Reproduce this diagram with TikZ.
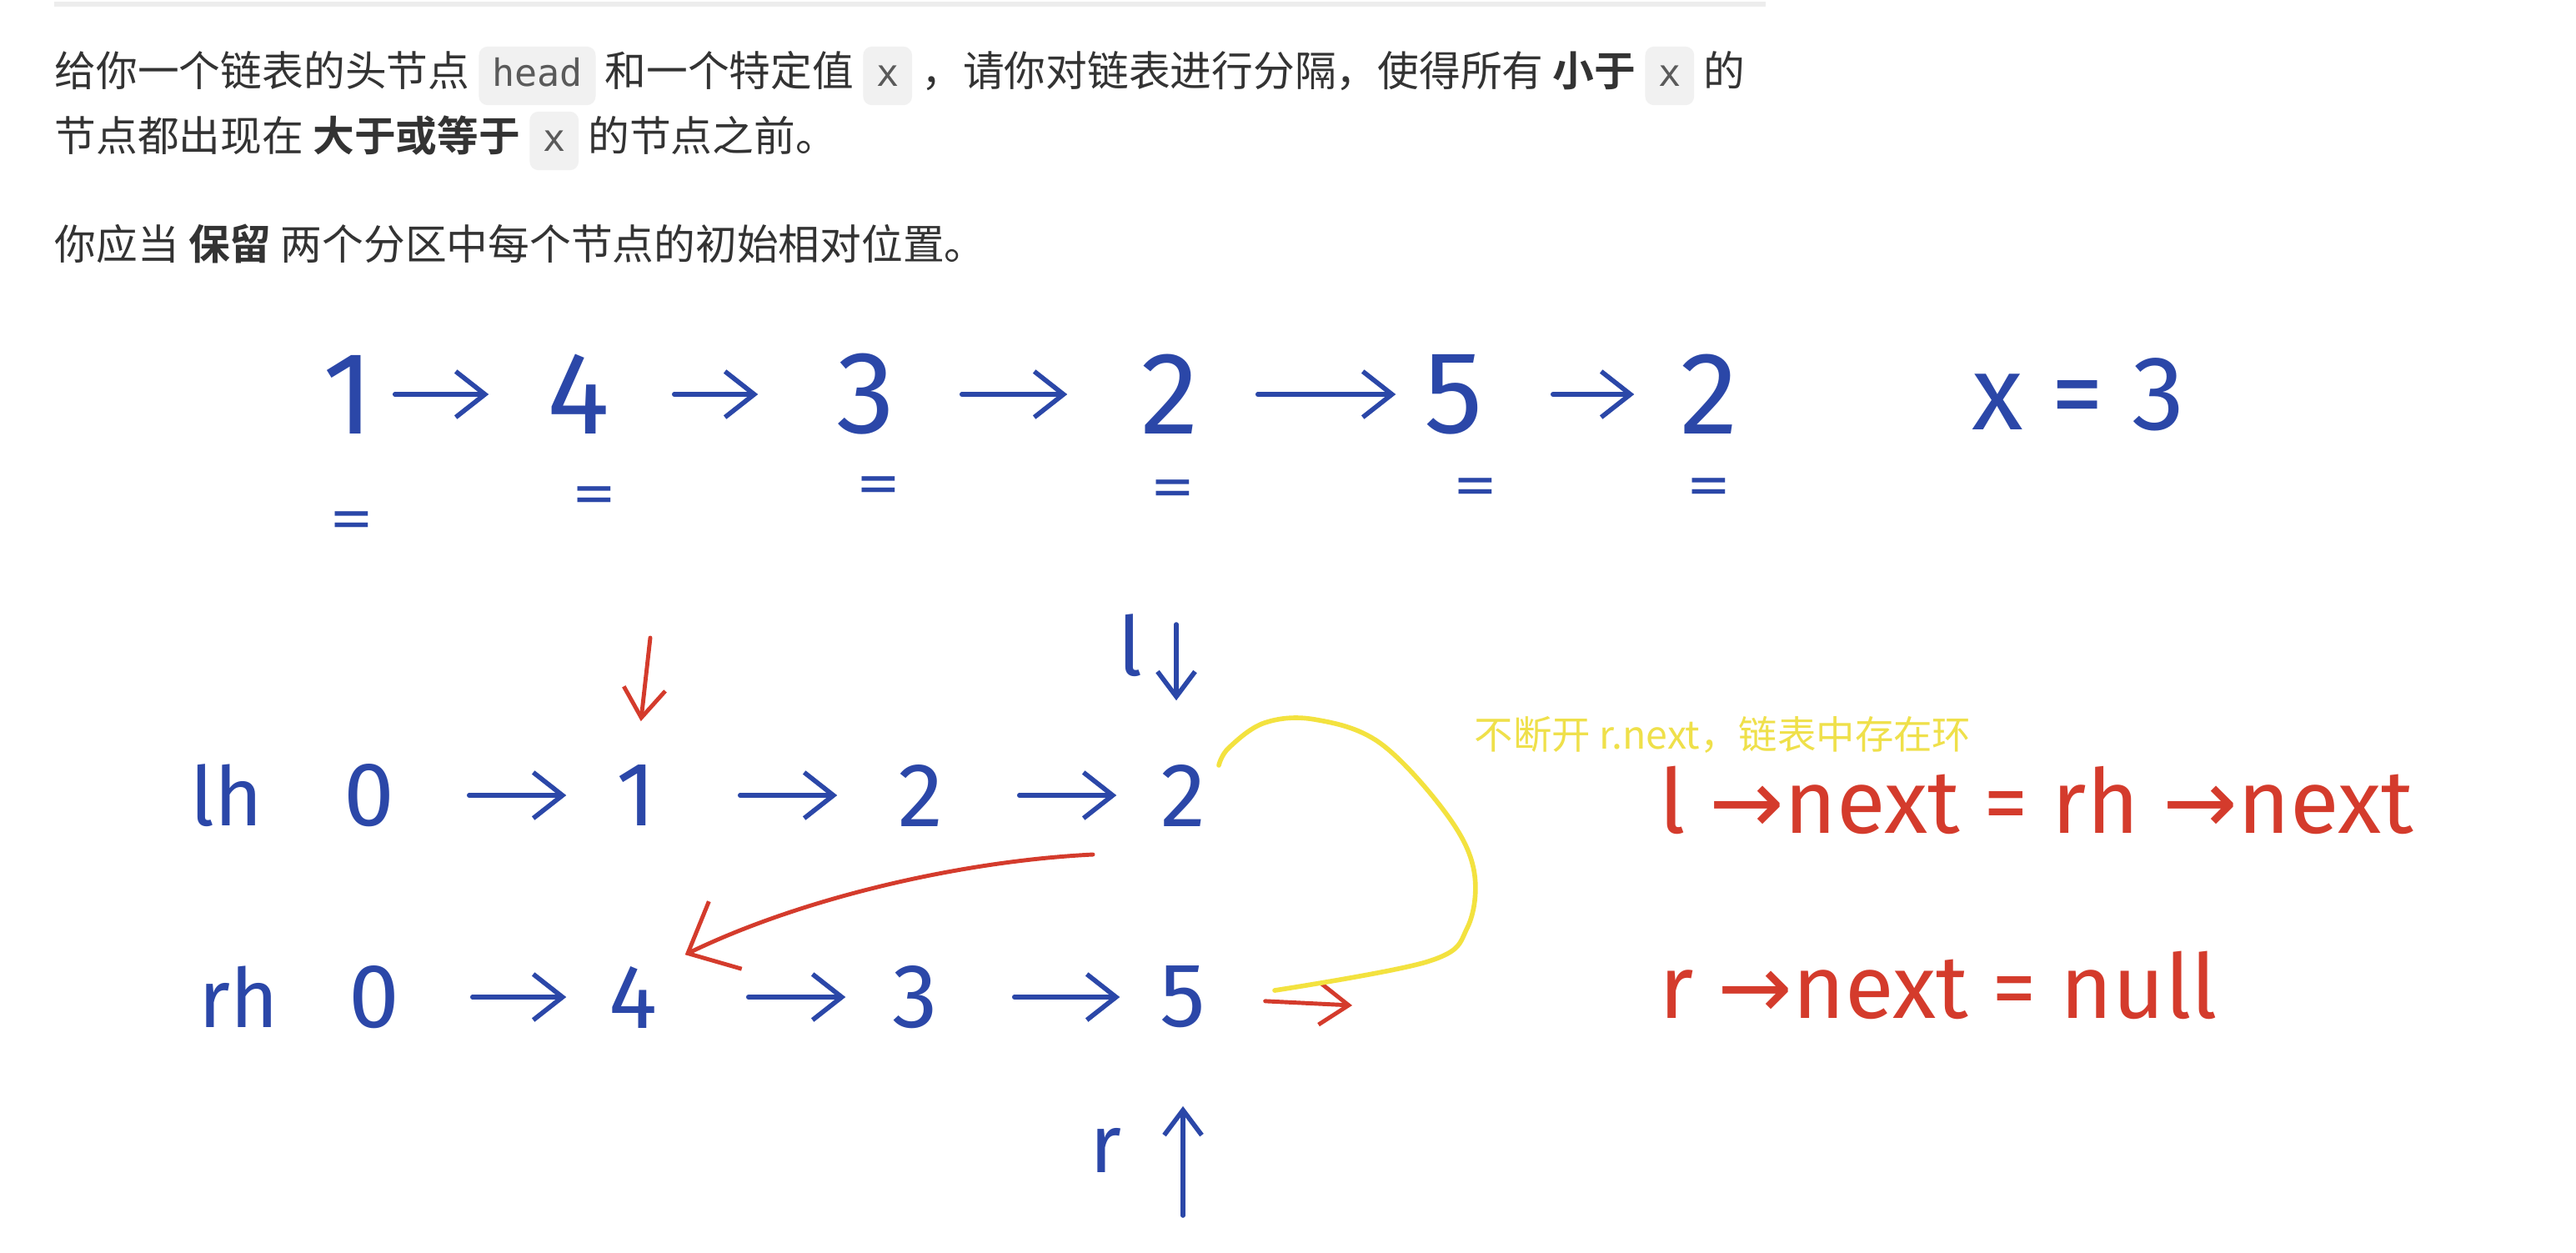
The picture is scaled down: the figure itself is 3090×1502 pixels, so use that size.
\documentclass[tikz,border=0pt]{standalone}
\usepackage{fontspec}
\setmainfont{Fira Sans}
\newfontfamily\cjk{Noto Sans CJK SC}[BoldFont={Noto Sans CJK SC Bold}]
\newfontfamily\codefont{DejaVu Sans Mono}
\newfontfamily\hand{Fira Sans}
\newfontfamily\sym{DejaVu Sans}
\usetikzlibrary{arrows.meta}
\definecolor{txt}{HTML}{333333}
\definecolor{codebg}{HTML}{F1F1F1}
\definecolor{codefg}{HTML}{5A5A5A}
\definecolor{pen}{HTML}{2B47A8}
\definecolor{redpen}{HTML}{D43B2C}
\definecolor{yel}{HTML}{F3E23F}
\definecolor{yeltext}{HTML}{EFE04A}
\definecolor{rulegray}{HTML}{EDEDED}
\newcommand\codebx[1]{\tikz[baseline=(cb.base)]\node[fill=codebg,rounded corners=3pt,inner xsep=4.5pt,inner ysep=4pt,text height=9.5pt,text depth=2.5pt,text=codefg,font=\codefont\fontsize{12.8pt}{14pt}\selectfont](cb){#1};}
\newcommand\wideeq{\scalebox{1.5}[1]{=}}
\tikzset{
  para/.style={anchor=west,text=txt,inner sep=0pt,font=\cjk\fontsize{14.15pt}{16pt}\selectfont},
  digit/.style={text=pen,inner sep=0pt,minimum width=0.9cm,minimum height=0.9cm,font=\hand\fontsize{40pt}{40pt}\selectfont},
  mdigit/.style={text=pen,inner sep=0pt,minimum width=0.7cm,minimum height=0.7cm,font=\hand\fontsize{31pt}{31pt}\selectfont},
  mlabel/.style={text=pen,inner sep=0pt,font=\hand\fontsize{28pt}{28pt}\selectfont},
  eqmark/.style={text=pen,inner sep=0pt,font=\hand\fontsize{20pt}{20pt}\selectfont},
  bluearrow/.style={draw=pen,line width=1.6pt,line cap=round,-{Straight Barb[length=3.5mm,width=5.5mm]}},
  redarrow/.style={draw=redpen,line width=1.4pt,line cap=round,-{Straight Barb[length=3.5mm,width=5mm]}},
  redformula/.style={anchor=west,text=redpen,inner sep=0pt,font=\hand\fontsize{30.5pt}{30.5pt}\selectfont},
}
\begin{document}
\begin{tikzpicture}[x=0.01cm,y=-0.01cm]
\useasboundingbox (0,0) rectangle (3090,1502);
\fill[white] (0,0) rectangle (3090,1502);
% top rule
\draw[rulegray,line width=1.5pt] (65,5) -- (2118,5);
% problem text
\node[para] (t1) at (65,91) {给你一个链表的头节点 \codebx{head} 和一个特定值 \codebx{x} ，请你对链表进行分隔，使得所有 \textbf{小于} \codebx{x} 的};
\node[para] (t2) at (65,169) {节点都出现在 \textbf{大于或等于} \codebx{x} 的节点之前。};
\node[para] (t3) at (65,292) {你应当 \textbf{保留} 两个分区中每个节点的初始相对位置。};

% top row
\node[digit] (n1) at (418,473) {1};
\node[digit] (n2) at (694,473) {4};
\node[digit] (n3) at (1039,473) {3};
\node[digit] (n4) at (1403,473) {2};
\node[digit] (n5) at (1744,473) {5};
\node[digit] (n6) at (2050,473) {2};
\node[text=pen,inner sep=0pt,font=\hand\fontsize{36pt}{36pt}\selectfont] (xeq) at (2493,473) {x = 3};
\draw[bluearrow,shorten <=0.10cm,shorten >=0.62cm] (n1) -- (n2);
\draw[bluearrow,shorten <=0.69cm,shorten >=0.84cm] (n2) -- (n3);
\draw[bluearrow,shorten <=0.69cm,shorten >=0.77cm] (n3) -- (n4);
\draw[bluearrow,shorten <=0.60cm,shorten >=0.24cm] (n4) -- (n5);
\draw[bluearrow,shorten <=0.73cm,shorten >=0.44cm] (n5) -- (n6);
% equal marks
\node[eqmark] (e1) at (422,630) {\wideeq};
\node[eqmark] (e2) at (713,600) {\wideeq};
\node[eqmark] (e3) at (1054,588) {\wideeq};
\node[eqmark] (e4) at (1407,592) {\wideeq};
\node[eqmark] (e5) at (1770,590) {\wideeq};
\node[eqmark] (e6) at (2050,590) {\wideeq};

% lh row
\node[mlabel] (lh) at (272,954) {lh};
\node[mdigit] (a0) at (443,954) {0};
\node[mdigit] (a1) at (763,954) {1};
\node[mdigit] (a2) at (1104,954) {2};
\node[mdigit] (a3) at (1419,954) {2};
\draw[bluearrow,shorten <=0.84cm,shorten >=0.48cm] (a0) -- (a1);
\draw[bluearrow,shorten <=0.89cm,shorten >=0.64cm] (a1) -- (a2);
\draw[bluearrow,shorten <=0.83cm,shorten >=0.44cm] (a2) -- (a3);

% rh row
\node[mlabel] (rh) at (286,1196) {rh};
\node[mdigit] (b0) at (449,1196) {0};
\node[mdigit] (b4) at (759,1196) {4};
\node[mdigit] (b3) at (1098,1196) {3};
\node[mdigit] (b5) at (1419,1196) {5};
\draw[bluearrow,shorten <=0.82cm,shorten >=0.44cm] (b0) -- (b4);
\draw[bluearrow,shorten <=1.03cm,shorten >=0.48cm] (b4) -- (b3);
\draw[bluearrow,shorten <=0.83cm,shorten >=0.40cm] (b3) -- (b5);
\coordinate (rend) at (1622,1206);
\draw[redarrow,shorten <=0.63cm] (b5) -- (rend);

% pointers
\coordinate (redtop) at (780,765);
\draw[redarrow,shorten >=0.52cm] (redtop) -- (a1.north);
\node[mlabel] (lptr) at (1356,774) {l};
\coordinate (ltop) at (1411,749);
\draw[bluearrow,-{Straight Barb[length=3mm,width=4.5mm]},shorten >=0.76cm] (ltop) -- (ltop |- a3.north);
\node[mlabel] (rptr) at (1326,1380) {r};
\coordinate (rbot) at (1419,1458);
\draw[bluearrow,-{Straight Barb[length=3mm,width=4.5mm]},shorten >=0.93cm] (rbot) -- (b5.south);

% red curved arrow l.next = rh.next
\coordinate (redstart) at (1311,1025);
\draw[redarrow,-{Straight Barb[length=5mm,width=9mm]},shorten >=0.3cm] (redstart) .. controls (1150,1033) and (960,1078) .. (b4.north east);

% yellow loop
\draw[yel,line width=1.6pt,line cap=round] plot[smooth,tension=0.6] coordinates {(1462,918) (1474,897) (1517,867) (1577,863) (1655,891) (1734,975) (1768,1044) (1760,1113) (1714,1153) (1529,1188)};
\node[anchor=west,text=yeltext,inner sep=0pt,font=\cjk\fontsize{13.2pt}{15pt}\selectfont] (ynote) at (1768,881) {不断开 r.next，链表中存在环};

% red formulas
\node[redformula] (f1) at (1990,960) {l {\sym→}next = rh {\sym→}next};
\node[redformula] (f2) at (1990,1182) {r {\sym→}next = null};
\end{tikzpicture}
\end{document}
